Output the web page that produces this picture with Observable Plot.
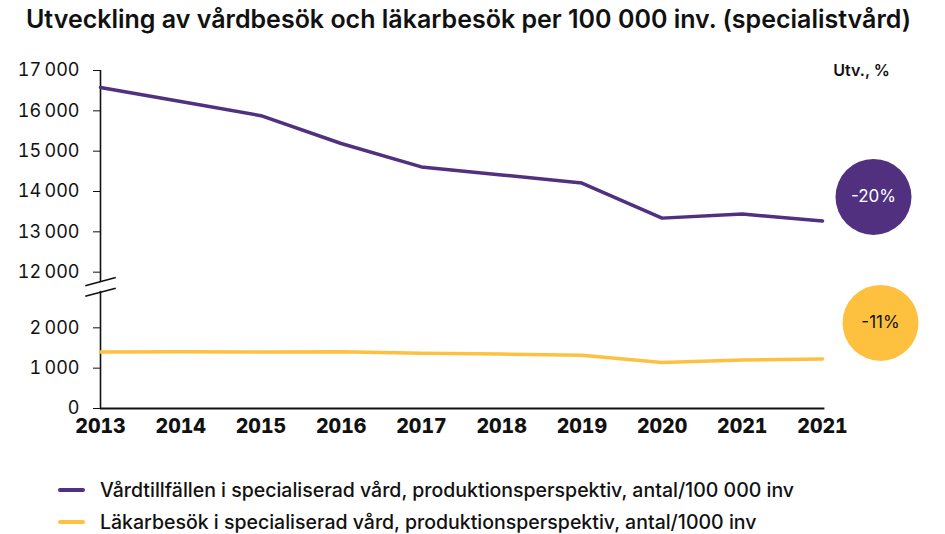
<!DOCTYPE html>
<html>
<head>
<meta charset="utf-8">
<script src="https://cdn.jsdelivr.net/npm/d3@7"></script>
<script src="https://cdn.jsdelivr.net/npm/@observablehq/plot@0.6"></script>
<style>
  html, body { margin: 0; padding: 0; background: #fff; }
  body { width: 945px; height: 534px; overflow: hidden; font-family: Inter, "Noto Sans", sans-serif; color: #111; }
  #title { height: 40px; line-height: 38px; text-align: center; font-size: 25px; font-weight: 600; white-space: nowrap; padding-left: 0; margin-left: -8px; }
  #chart svg { display: block; }
  #chart g[aria-label="x-axis"] text, #chart g[aria-label="x-axis tick label"] text { font-weight: 800; font-size: 19.5px; }
  #legend { position: absolute; left: 0; top: 445px; width: 945px; }
  .row { position: absolute; left: 58px; display: flex; align-items: center; font-size: 19.5px; font-weight: 500; white-space: nowrap; }
  .sw { width: 27px; height: 4px; border-radius: 2px; margin-right: 15px; }
</style>
</head>
<body>
<div id="title">Utveckling av vårdbesök och läkarbesök per 100 000 inv. (specialistvård)</div>
<div id="chart"></div>
<div id="legend"></div>
<script>
// ---- data ----
const years = ["2013", "2014", "2015", "2016", "2017", "2018", "2019", "2020", "2021", "2021"];
const vardtillfallen = [16580, 16230, 15880, 15190, 14610, 14410, 14210, 13340, 13440, 13270];
const lakarbesok = [1400, 1410, 1400, 1410, 1370, 1350, 1320, 1140, 1200, 1230];
const seriesNames = [
  "Vårdtillfällen i specialiserad vård, produktionsperspektiv, antal/100 000 inv",
  "Läkarbesök i specialiserad vård, produktionsperspektiv, antal/1000 inv"
];
const changeLabels = ["-20%", "-11%"];
const yTicksLower = [0, 1000, 2000];
const yTicksUpper = [12000, 13000, 14000, 15000, 16000, 17000];
const colors = ["#50307f", "#fdc13f"];

// ---- broken axis transform ----
const BREAK_LO = 2000, BREAK_HI = 12000, GAP = 1380;
const t = v => v >= BREAK_HI ? v - BREAK_HI + BREAK_LO + GAP : v;
const inv = v => v > BREAK_LO + GAP / 2 ? v - BREAK_LO - GAP + BREAK_HI : v;
const fmt = v => d3.format(",")(Math.round(v)).replace(/,/g, "\u2009");

const n = years.length;
const purple = vardtillfallen.map((v, i) => ({i, v: t(v)}));
const yellow = lakarbesok.map((v, i) => ({i, v: t(v)}));
const tickVals = [...yTicksLower, ...yTicksUpper].map(t);

const slashCenters = [BREAK_LO + GAP * 0.64, BREAK_LO + GAP * 0.83];

const chart = Plot.plot({
  width: 945,
  height: 405,
  marginLeft: 100,
  marginRight: 123,
  marginTop: 30,
  marginBottom: 37,
  style: {fontFamily: "Inter, 'Noto Sans', sans-serif", fontSize: "18px", color: "#111", background: "#fff"},
  x: {domain: [0, n - 1], ticks: d3.range(n), tickFormat: i => years[i], tickSize: 0, tickPadding: 11, label: null},
  y: {domain: [0, t(17000)], ticks: tickVals, tickFormat: d => fmt(inv(d)), tickSize: 7, tickPadding: 14, label: null},
  marks: [
    // broken y axis line
    Plot.ruleX([0], {y1: 0, y2: slashCenters[0] + 20, stroke: "#111", strokeWidth: 1.6}),
    Plot.ruleX([0], {y1: slashCenters[1] - 20, y2: t(17000), stroke: "#111", strokeWidth: 1.6}),
    Plot.link(slashCenters, {x1: -0.19, x2: 0.19, y1: d => d - 100, y2: d => d + 100, stroke: "#111", strokeWidth: 1.6}),
    // x axis line
    Plot.ruleY([0], {x1: 0, x2: n - 1 + 0.03, stroke: "#111", strokeWidth: 2}),
    // series
    Plot.line(purple, {x: "i", y: "v", stroke: colors[0], strokeWidth: 3.5}),
    Plot.line(yellow, {x: "i", y: "v", stroke: colors[1], strokeWidth: 3.5}),
    // change badges
    Plot.dot([purple[n - 1]], {x: "i", y: "v", r: 38, fill: colors[0], dx: 51, dy: -24}),
    Plot.text([purple[n - 1]], {x: "i", y: "v", text: () => changeLabels[0], fill: "#fff", fontSize: 17, dx: 51, dy: -24}),
    Plot.dot([yellow[n - 1]], {x: "i", y: "v", r: 38, fill: colors[1], dx: 58, dy: -36}),
    Plot.text([yellow[n - 1]], {x: "i", y: "v", text: () => changeLabels[1], fill: "#111", fontSize: 17, dx: 58, dy: -36}),
    Plot.text([{i: n - 1, v: t(17000)}], {x: "i", y: "v", text: () => "Utv., %", fontSize: 16, fontWeight: 600, dx: 39, fill: "#111"})
  ]
});
document.getElementById("chart").appendChild(chart);

const legend = document.getElementById("legend");
seriesNames.forEach((name, k) => {
  const row = document.createElement("div");
  row.className = "row";
  row.style.top = (k === 0 ? 45 : 77) + "px";
  row.style.transform = "translateY(-50%)";
  row.innerHTML = `<span class="sw" style="background:${colors[k]}"></span><span>${name}</span>`;
  legend.appendChild(row);
});
</script>
</body>
</html>
